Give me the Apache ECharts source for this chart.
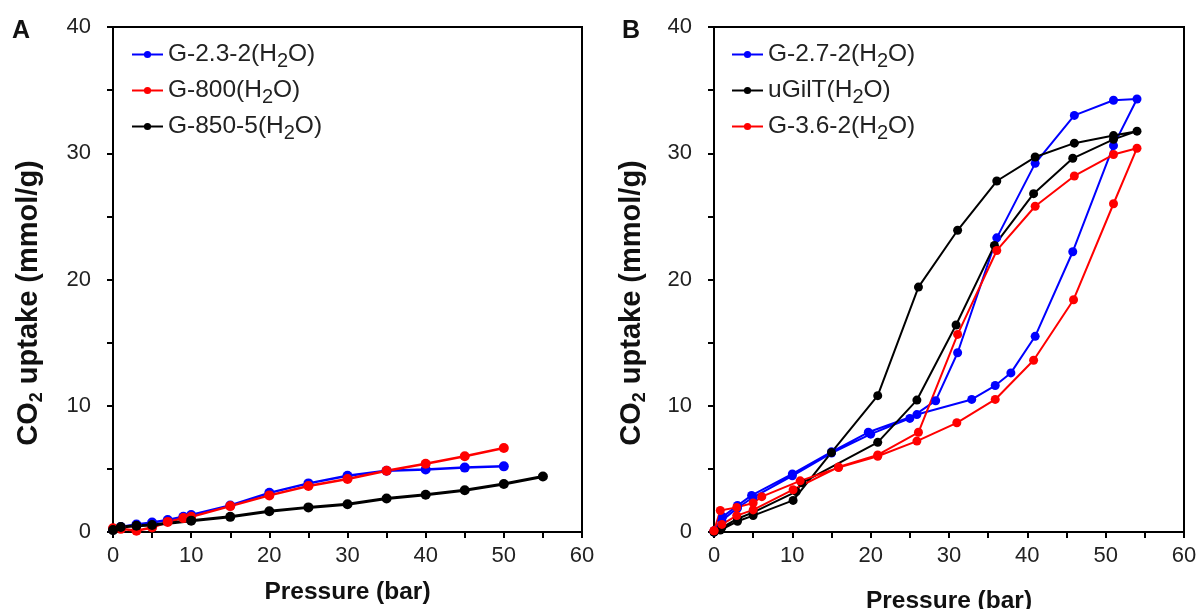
<!DOCTYPE html>
<html>
<head>
<meta charset="utf-8">
<script src="https://cdn.jsdelivr.net/npm/echarts@6/dist/echarts.min.js"></script>
<style>
  html, body { margin: 0; padding: 0; background: #fff; }
  #chart { width: 1200px; height: 609px; }
</style>
</head>
<body>
<div id="chart"></div>
<script>
// Panel A: CO2 uptake isotherms (pressure in bar, uptake in mmol/g)
const pressureA = [0, 1, 3, 5, 7, 9, 10, 15, 20, 25, 30, 35, 40, 45, 50];
const uptakeG23 = [0.2, 0.4, 0.6, 0.75, 0.95, 1.2, 1.35, 2.1, 3.1, 3.85, 4.45, 4.85, 4.95, 5.1, 5.2];
const uptakeG800 = [0.3, 0.25, 0.1, 0.35, 0.8, 1.1, 1.2, 2.05, 2.9, 3.65, 4.2, 4.85, 5.4, 6.0, 6.65];
const pressureG850 = [0, 1, 3, 5, 10, 15, 20, 25, 30, 35, 40, 45, 50, 55];
const uptakeG850 = [0.15, 0.4, 0.5, 0.55, 0.9, 1.2, 1.65, 1.95, 2.2, 2.65, 2.95, 3.3, 3.8, 4.4];

// Panel B: adsorption then desorption branches, in measurement order
const pressureG27 = [0, 1, 3, 5, 10, 15, 20, 25, 28.3, 31.1, 36.1, 41, 46, 51, 54,
                     51, 45.8, 41, 37.9, 35.9, 32.9, 25.9, 19.7, 15, 10, 4.8, 3, 1.1, 0];
const uptakeG27 = [0, 0.9, 1.9, 2.75, 4.45, 6.25, 7.75, 9.0, 10.4, 14.2, 23.3, 29.2, 33.0, 34.2, 34.3,
                   30.6, 22.2, 15.5, 12.6, 11.6, 10.5, 9.3, 7.9, 6.35, 4.6, 2.9, 2.1, 1.2, 0.1];
const pressureGilT = [0, 1, 3, 5, 10.5, 11.2, 20.9, 25.9, 30.9, 35.8, 40.8, 45.8, 51, 54,
                      51, 46, 41, 36.1, 31.1, 26.1, 20.9, 15, 10.1, 5, 3, 0.8, 0];
const uptakeGilT = [0, 0.35, 1.05, 1.55, 3.2, 3.9, 7.1, 10.45, 16.4, 22.7, 26.8, 29.6, 31.1, 31.75,
                    31.4, 30.8, 29.7, 27.8, 23.9, 19.4, 10.8, 6.3, 2.5, 1.3, 0.85, 0.15, 0];
const pressureG36 = [0, 1, 2.9, 5, 10.1, 15.9, 20.9, 26.1, 31.1, 36.1, 41, 46, 51, 54,
                     51, 45.9, 40.8, 35.9, 31, 25.9, 20.9, 15.9, 11, 6.1, 5, 2.9, 0.8, 0];
const uptakeG36 = [0.1, 0.6, 1.3, 1.75, 3.35, 5.15, 6.1, 7.9, 15.65, 22.3, 25.8, 28.2, 29.9, 30.4,
                   26.0, 18.4, 13.6, 10.5, 8.65, 7.2, 6.0, 5.1, 4.05, 2.8, 2.3, 1.95, 1.7, 0.1];

const xTicks = [0, 10, 20, 30, 40, 50, 60];
const yTicks = [0, 10, 20, 30, 40];

const FONT = "'Liberation Sans', Arial, sans-serif";
const BLUE = '#0000ff', RED = '#ff0000', BLACK = '#000000';

function pairs(xs, ys) { return xs.map((x, i) => [x, ys[i]]); }

function xAxisFor(grid, gap) {
  return {
    type: 'value', gridIndex: grid, min: 0, max: 60, interval: 5,
    name: 'Pressure (bar)', nameLocation: 'middle', nameGap: gap,
    nameTextStyle: { fontFamily: FONT, fontSize: 24.5, fontWeight: 'bold', color: '#111' },
    axisLine: { show: true, onZero: false, lineStyle: { color: '#000', width: 2 } },
    axisTick: { show: true, inside: false, length: 6, lineStyle: { color: '#000', width: 2 } },
    axisLabel: {
      fontFamily: FONT, fontSize: 22, color: '#222', margin: 13,
      formatter: v => (xTicks.indexOf(v) >= 0 ? String(v) : '')
    },
    splitLine: { show: false }
  };
}

function yAxisFor(grid) {
  return {
    type: 'value', gridIndex: grid, min: 0, max: 40, interval: 5,
    axisLine: { show: true, onZero: false, lineStyle: { color: '#000', width: 2 } },
    axisTick: { show: true, inside: false, length: 6, lineStyle: { color: '#000', width: 2 } },
    axisLabel: {
      fontFamily: FONT, fontSize: 22, color: '#222', margin: 22,
      formatter: v => (yTicks.indexOf(v) >= 0 ? String(v) : '')
    },
    splitLine: { show: false }
  };
}

// Rotated y-axis title with a subscript "2"
function yTitle(x, y) {
  return {
    type: 'text', x: x, y: y, rotation: Math.PI / 2, silent: true,
    style: {
      text: '{t|CO}{s|2}{t| uptake (mmol/g)}',
      align: 'center', verticalAlign: 'middle',
      rich: {
        t: { fontFamily: FONT, fontSize: 29, fontWeight: 'bold', fill: '#111', lineHeight: 30 },
        s: { fontFamily: FONT, fontSize: 18, fontWeight: 'bold', fill: '#111', lineHeight: 20, padding: [16, 0, 0, 0] }
      }
    }
  };
}

function lineSeries(name, color, data, xi, width, size) {
  return {
    name: name, type: 'line', xAxisIndex: xi, yAxisIndex: xi,
    data: data, symbol: 'circle', symbolSize: size, showSymbol: true,
    lineStyle: { color: color, width: width },
    itemStyle: { color: color },
    emphasis: { disabled: true }, animation: false
  };
}

function legendFor(names, left) {
  return {
    orient: 'vertical', left: left, top: 33, itemGap: 3,
    itemWidth: 31, itemHeight: 9,
    data: names,
    formatter: n => '{t|' + n.replace('H2O', 'H}{s|2}{t|O') + '}',
    textStyle: {
      rich: {
        t: { fontFamily: FONT, fontSize: 24.5, color: '#222', lineHeight: 22 },
        s: { fontFamily: FONT, fontSize: 20, color: '#222', lineHeight: 22, padding: [13, 0, 0, 0] }
      }
    }
  };
}

const chart = echarts.init(document.getElementById('chart'), null, { renderer: 'canvas' });
chart.setOption({
  backgroundColor: '#fff',
  animation: false,
  grid: [
    { left: 113, top: 27, width: 469, height: 505, outerBoundsMode: 'none', containLabel: false,
      show: true, borderColor: '#000', borderWidth: 2, backgroundColor: 'transparent' },
    { left: 714, top: 27, width: 470, height: 505, outerBoundsMode: 'none', containLabel: false,
      show: true, borderColor: '#000', borderWidth: 2, backgroundColor: 'transparent' }
  ],
  xAxis: [xAxisFor(0, 48), xAxisFor(1, 57)],
  yAxis: [yAxisFor(0), yAxisFor(1)],
  legend: [
    legendFor(['G-2.3-2(H2O)', 'G-800(H2O)', 'G-850-5(H2O)'], 126),
    legendFor(['G-2.7-2(H2O)', 'uGilT(H2O)', 'G-3.6-2(H2O)'], 726)
  ],
  graphic: [
    { type: 'text', left: 12, top: 19, style: { text: 'A', fontFamily: FONT, fontSize: 25, fontWeight: 'bold', fill: '#111' } },
    { type: 'text', left: 622, top: 19, style: { text: 'B', fontFamily: FONT, fontSize: 25, fontWeight: 'bold', fill: '#111' } },
    yTitle(29, 303),
    yTitle(632, 303)
  ],
  series: [
    lineSeries('G-2.3-2(H2O)', BLUE, pairs(pressureA, uptakeG23), 0, 2.5, 10),
    lineSeries('G-800(H2O)', RED, pairs(pressureA, uptakeG800), 0, 2.5, 10),
    lineSeries('G-850-5(H2O)', BLACK, pairs(pressureG850, uptakeG850), 0, 3, 10),
    lineSeries('G-2.7-2(H2O)', BLUE, pairs(pressureG27, uptakeG27), 1, 2, 9),
    lineSeries('uGilT(H2O)', BLACK, pairs(pressureGilT, uptakeGilT), 1, 2, 9),
    lineSeries('G-3.6-2(H2O)', RED, pairs(pressureG36, uptakeG36), 1, 2, 9)
  ]
});
</script>
</body>
</html>
